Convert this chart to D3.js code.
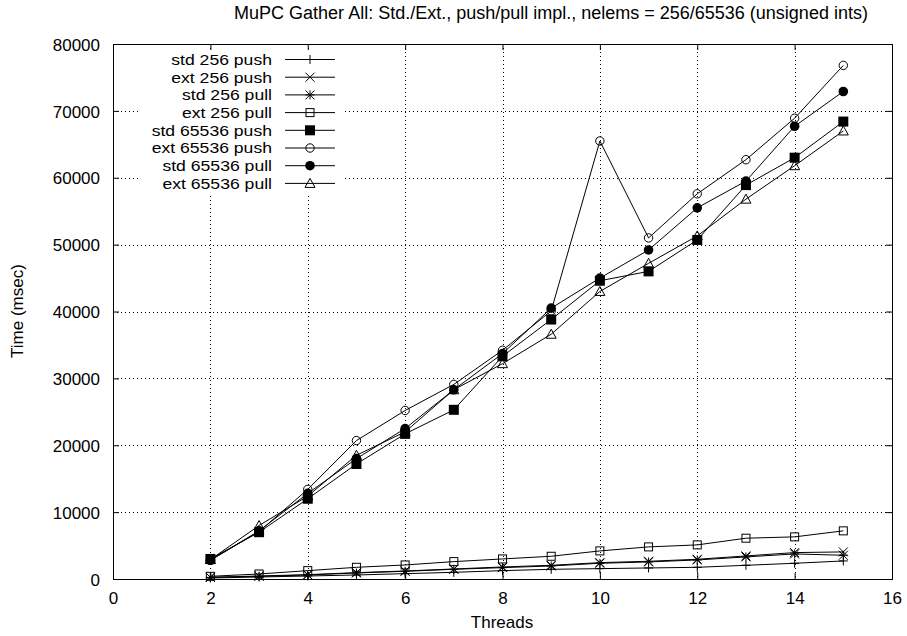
<!DOCTYPE html>
<html>
<head>
<meta charset="utf-8">
<script src="https://cdn.jsdelivr.net/npm/d3@7"></script>
<style>
  html, body { margin: 0; padding: 0; background: #fff; }
  svg text { font-family: "Liberation Sans", Arial, Helvetica, sans-serif; font-size: 17px; fill: #000; }
</style>
</head>
<body>
<svg id="chart" width="907" height="636"></svg>
<script>
// Thread counts on the x axis
const threads = [2, 3, 4, 5, 6, 7, 8, 9, 10, 11, 12, 13, 14, 15];

// Gather-all times (msec) for each implementation / element count
const std256Push   = [150, 300, 450, 600, 800, 1000, 1250, 1450, 1550, 1650, 1750, 2050, 2350, 2700];
const ext256Push   = [250, 450, 650, 950, 1200, 1500, 1800, 2050, 2450, 2650, 2950, 3450, 3950, 4050];
const std256Pull   = [250, 400, 600, 900, 1150, 1450, 1700, 1950, 2350, 2550, 2850, 3300, 3750, 3550];
const ext256Pull   = [400, 750, 1250, 1750, 2100, 2600, 3000, 3400, 4200, 4800, 5100, 6100, 6300, 7200];
const std65536Push = [3000, 7000, 12000, 17200, 21700, 25300, 33300, 38800, 44600, 46000, 50700, 58900, 63000, 68400];
const ext65536Push = [2800, 7100, 13400, 20700, 25200, 29100, 34200, 40100, 65500, 51000, 57600, 62700, 68900, 76800];
const std65536Pull = [2800, 7200, 12800, 18000, 22500, 28300, 33700, 40500, 45000, 49200, 55500, 59500, 67700, 72900];
const ext65536Pull = [2900, 8000, 12400, 18500, 22000, 28300, 32200, 36600, 43000, 47200, 51300, 56800, 61800, 67000];

const seriesNames = ["std 256 push", "ext 256 push", "std 256 pull", "ext 256 pull",
                     "std 65536 push", "ext 65536 push", "std 65536 pull", "ext 65536 pull"];
const seriesValues = [std256Push, ext256Push, std256Pull, ext256Pull,
                      std65536Push, ext65536Push, std65536Pull, ext65536Pull];
const seriesMarkers = ["plus", "cross", "star", "box", "boxFilled", "circle", "circleFilled", "triangle"];

const xTicks = [0, 2, 4, 6, 8, 10, 12, 14, 16];
const yTicks = [0, 10000, 20000, 30000, 40000, 50000, 60000, 70000, 80000];

const titleText = "MuPC Gather All: Std./Ext., push/pull impl., nelems = 256/65536 (unsigned ints)";
const xLabel = "Threads";
const yLabel = "Time (msec)";

const svg = d3.select("#chart");
const plotLeft = 113, plotRight = 892, plotTop = 44, plotBottom = 579;

const x = d3.scaleLinear().domain([0, 16]).range([plotLeft, plotRight]);
const y = d3.scaleLinear().domain([0, 80000]).range([plotBottom, plotTop]);

// dotted grid
const grid = svg.append("g").attr("stroke", "#000").attr("stroke-width", 1)
  .attr("stroke-dasharray", "1,3").attr("shape-rendering", "crispEdges");
grid.selectAll("line.gx").data(xTicks.slice(1, -1)).join("line")
  .attr("x1", d => Math.round(x(d)) + 0.5).attr("x2", d => Math.round(x(d)) + 0.5)
  .attr("y1", plotTop).attr("y2", plotBottom);
grid.selectAll("line.gy").data(yTicks.slice(1, -1)).join("line")
  .attr("x1", plotLeft).attr("x2", plotRight)
  .attr("y1", d => Math.round(y(d)) + 0.5).attr("y2", d => Math.round(y(d)) + 0.5);

// axes with inward ticks on all four sides
const fmt = d3.format("d");
const axLeft = svg.append("g").attr("transform", `translate(${plotLeft},0)`)
  .call(d3.axisLeft(y).tickValues(yTicks).tickFormat(fmt).tickSize(-6).tickPadding(13));
const axRight = svg.append("g").attr("transform", `translate(${plotRight},0)`)
  .call(d3.axisRight(y).tickValues(yTicks).tickFormat("").tickSize(-6));
const axBottom = svg.append("g").attr("transform", `translate(0,${plotBottom})`)
  .call(d3.axisBottom(x).tickValues(xTicks).tickFormat(fmt).tickSize(-6).tickPadding(13));
const axTop = svg.append("g").attr("transform", `translate(0,${plotTop})`)
  .call(d3.axisTop(x).tickValues(xTicks).tickFormat("").tickSize(-6));

[axLeft, axRight, axBottom, axTop].forEach(a => {
  a.select(".domain").remove();
  a.selectAll("line").attr("stroke", "#000");
  a.selectAll("text").attr("font-family", null).attr("font-size", null).attr("fill", "#000");
});
axLeft.selectAll("text").attr("dy", "0.36em");
axBottom.selectAll("text").attr("dy", "0.72em");

// border
svg.append("rect").attr("x", plotLeft + 0.5).attr("y", plotTop + 0.5)
  .attr("width", plotRight - plotLeft).attr("height", plotBottom - plotTop)
  .attr("fill", "none").attr("stroke", "#000").attr("stroke-width", 1);

// marker drawing
function drawMarker(g, type, cx, cy) {
  const s = 4.5;
  switch (type) {
    case "plus":
      g.append("path").attr("d", `M${cx - s},${cy}H${cx + s}M${cx},${cy - s}V${cy + s}`)
        .attr("stroke", "#000").attr("fill", "none");
      break;
    case "cross":
      g.append("path").attr("d", `M${cx - s},${cy - s}L${cx + s},${cy + s}M${cx - s},${cy + s}L${cx + s},${cy - s}`)
        .attr("stroke", "#000").attr("fill", "none");
      break;
    case "star":
      g.append("path").attr("d", `M${cx - s},${cy}H${cx + s}M${cx},${cy - s}V${cy + s}M${cx - s},${cy - s}L${cx + s},${cy + s}M${cx - s},${cy + s}L${cx + s},${cy - s}`)
        .attr("stroke", "#000").attr("fill", "none");
      break;
    case "box":
      g.append("rect").attr("x", cx - 4).attr("y", cy - 4).attr("width", 8).attr("height", 8)
        .attr("stroke", "#000").attr("fill", "none");
      break;
    case "boxFilled":
      g.append("rect").attr("x", cx - 5).attr("y", cy - 5).attr("width", 10).attr("height", 10)
        .attr("fill", "#000");
      break;
    case "circle":
      g.append("circle").attr("cx", cx).attr("cy", cy).attr("r", 4.2)
        .attr("stroke", "#000").attr("fill", "none");
      break;
    case "circleFilled":
      g.append("circle").attr("cx", cx).attr("cy", cy).attr("r", 4.8).attr("fill", "#000");
      break;
    case "triangle":
      g.append("path").attr("d", `M${cx},${cy - 5}L${cx + 5},${cy + 4}L${cx - 5},${cy + 4}Z`)
        .attr("stroke", "#000").attr("fill", "none");
      break;
  }
}

// data lines and points
const line = d3.line().x(d => x(d[0])).y(d => y(d[1]));
seriesValues.forEach((vals, i) => {
  const pts = threads.map((t, j) => [t, vals[j]]);
  const g = svg.append("g").attr("class", "series");
  g.append("path").attr("d", line(pts)).attr("fill", "none").attr("stroke", "#000").attr("stroke-width", 1);
  pts.forEach(p => drawMarker(g, seriesMarkers[i], x(p[0]), y(p[1])));
});

// legend with a white backing box; labels use a slightly wide, compact face
const legend = svg.append("g");
legend.append("rect").attr("x", 140).attr("y", 50).attr("width", 205).attr("height", 143).attr("fill", "#fff");
seriesNames.forEach((name, i) => {
  const ly = 59.5 + i * 17.7;
  const t = legend.append("text").attr("x", 272).attr("y", ly).attr("dy", "0.36em")
    .attr("text-anchor", "end").style("font-size", "17.6px").text(name);
  const wide = t.node().getComputedTextLength();
  t.style("font-size", "15px").attr("textLength", wide).attr("lengthAdjust", "spacingAndGlyphs");
  legend.append("line").attr("x1", 285).attr("x2", 335).attr("y1", ly).attr("y2", ly)
    .attr("stroke", "#000");
  drawMarker(legend, seriesMarkers[i], 310, ly);
});

// titles
svg.append("text").attr("x", 551).attr("y", 19).attr("text-anchor", "middle")
  .style("font-size", "18px").text(titleText);
svg.append("text").attr("x", 502).attr("y", 628).attr("text-anchor", "middle").text(xLabel);
svg.append("text").attr("transform", "translate(23,311) rotate(-90)").attr("text-anchor", "middle").text(yLabel);
</script>
</body>
</html>
